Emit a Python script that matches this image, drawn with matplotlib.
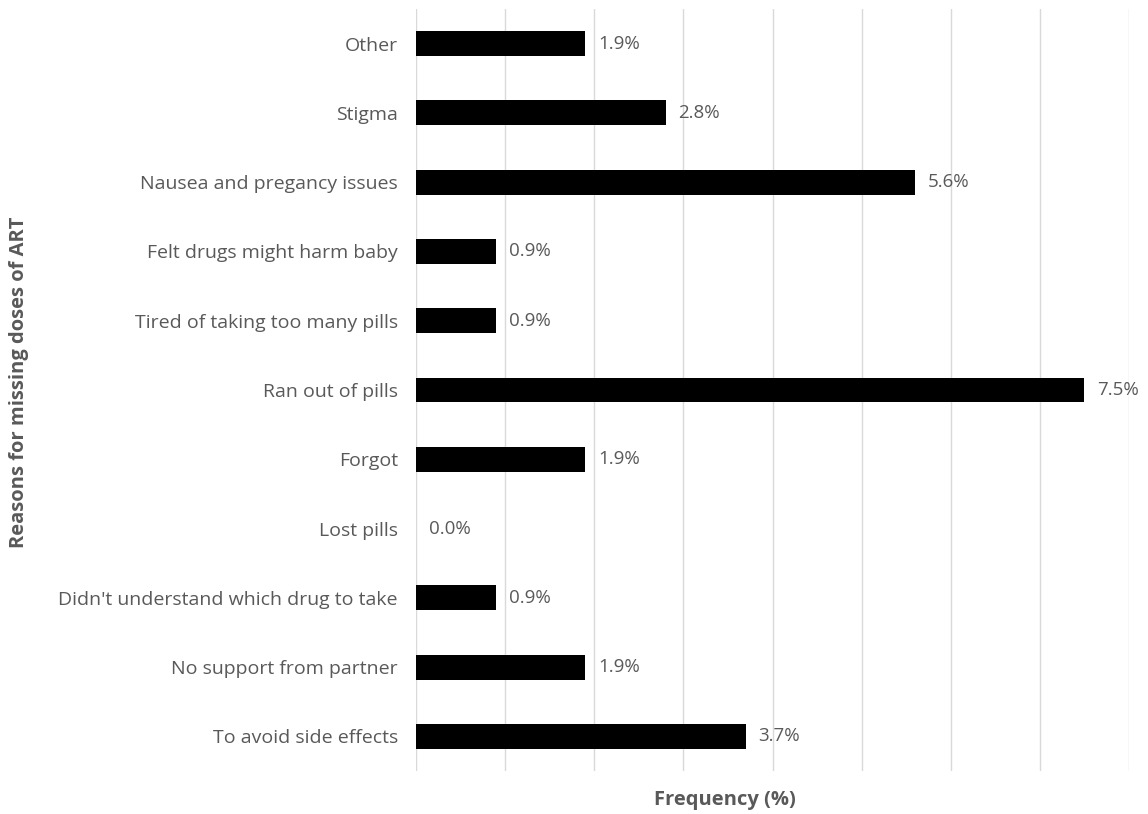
import matplotlib.pyplot as plt

reasons = ["To avoid side effects", "No support from partner",
           "Didn't understand which drug to take", "Lost pills", "Forgot",
           "Ran out of pills", "Tired of taking too many pills",
           "Felt drugs might harm baby", "Nausea and pregancy issues",
           "Stigma", "Other"]
freq = [3.7, 1.9, 0.9, 0.0, 1.9, 7.5, 0.9, 0.9, 5.6, 2.8, 1.9]

grey = "#595959"
plt.rcParams['font.family'] = ['Open Sans', 'DejaVu Sans']

fig = plt.figure(figsize=(11.48, 8.14), dpi=100)
ax = fig.add_axes([416/1148, 1 - 771/814, (1129 - 416)/1148, (771 - 9)/814])

y = range(len(reasons))
ax.barh(y, freq, height=0.36, color="black", zorder=3)
for yi, v in zip(y, freq):
    ax.annotate(f"{v:.1f}%", (v, yi), xytext=(9, 0), textcoords="offset points",
                va="center", ha="left", fontsize=13.5, color=grey)

ax.set_xlim(0, 8)
ax.set_ylim(-0.5, len(reasons) - 0.5)
ax.set_xticks(range(9))
ax.set_xticklabels([])
ax.set_yticks(list(y))
ax.set_yticklabels(reasons, fontsize=14, color=grey)
ax.tick_params(length=0, pad=13)
ax.grid(axis="x", color="#d9d9d9", lw=1, zorder=0)
for s in ax.spines.values():
    s.set_visible(False)

fig.text(725/1148, 1 - 800/814, "Frequency (%)", ha="center", va="center",
         fontsize=14.5, fontweight="bold", color=grey)
fig.text(19/1148, 1 - 382/814, "Reasons for missing doses of ART", ha="center",
         va="center", rotation=90, fontsize=14.5, fontweight="bold", color=grey)

fig.savefig("out.png", dpi=100)
